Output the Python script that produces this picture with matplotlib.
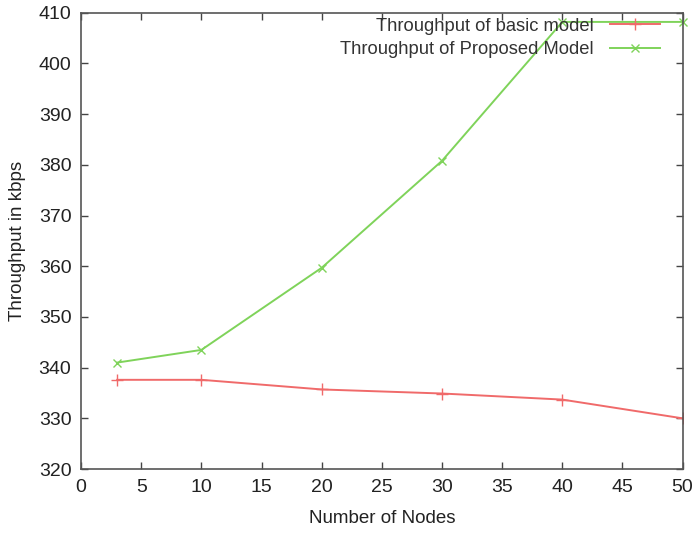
import numpy as np
import matplotlib.pyplot as plt

plt.rcParams['font.family'] = ['Liberation Sans', 'DejaVu Sans']

# nodos y throughput (kbps)
nodes = [3, 10, 20, 30, 40, 50]
basic = [337.6, 337.6, 335.7, 334.9, 333.7, 330.0]
proposed = [341.0, 343.5, 359.7, 380.8, 408.2, 408.2]

fig = plt.figure(figsize=(6.93, 5.33), dpi=100)
ax = fig.add_axes([0.117, 0.12, 0.868, 0.856])

ax.plot(nodes, basic, color='#f06a6a', lw=1.4, marker='+', ms=8, mew=1.0,
        label='Throughput of basic model')
ax.plot(nodes, proposed, color='#7fd35a', lw=1.4, marker='x', ms=6, mew=1.0,
        label='Throughput of Proposed Model', clip_on=False)

ax.set_xlim(0, 50)
ax.set_ylim(320, 410)
ax.set_xticks(np.arange(0, 51, 5))
ax.set_yticks(np.arange(320, 411, 10))
ax.tick_params(direction='in', top=True, right=True, length=5, width=1,
               labelsize=14, colors='#444444', labelcolor='#222222', pad=7)
for s in ax.spines.values():
    s.set_color('#555555')
    s.set_linewidth(1.2)

ax.set_xlabel('Number of Nodes', fontsize=13.5, color='#222222', labelpad=10)
ax.set_ylabel('Throughput in kbps', fontsize=13.5, color='#222222', labelpad=9)

leg = ax.legend(loc='upper right', bbox_to_anchor=(0.99, 1.025), frameon=False,
                markerfirst=False, fontsize=13.2, handlelength=2.75,
                labelspacing=0.35, handletextpad=0.85)
for t in leg.get_texts():
    t.set_color('#333333')

plt.savefig('out.png')
